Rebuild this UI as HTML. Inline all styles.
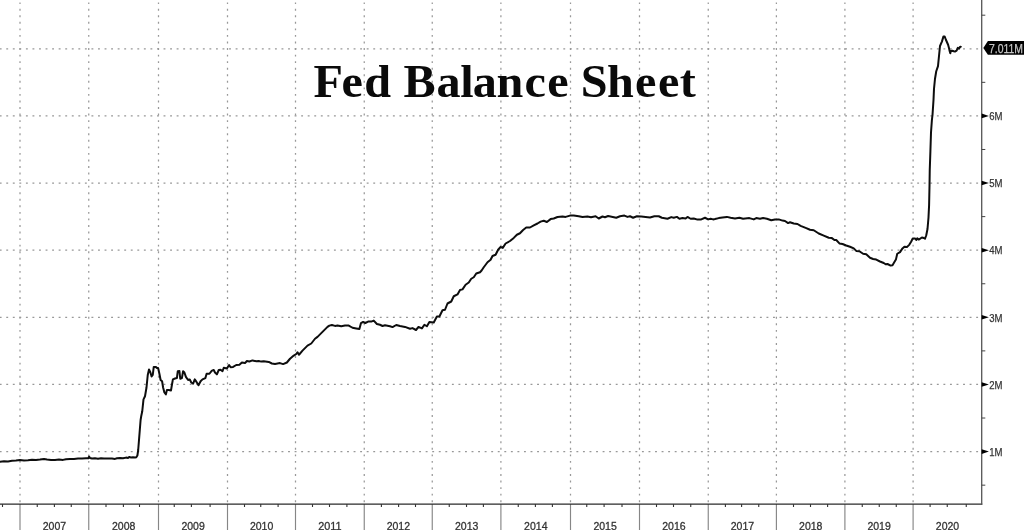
<!DOCTYPE html>
<html lang="en"><head><meta charset="utf-8"><title>Fed Balance Sheet</title>
<style>
html,body{margin:0;padding:0;background:#fff;}
body{width:1024px;height:530px;overflow:hidden;}
svg{display:block;}
.yr{font-family:"Liberation Sans",Arial,sans-serif;font-size:11.8px;fill:#333;stroke:#333;stroke-width:0.3px;}
.yl{font-family:"Liberation Sans",Arial,sans-serif;font-size:11.6px;fill:#333;stroke:#333;stroke-width:0.25px;}
.bd{font-family:"Liberation Sans",Arial,sans-serif;font-size:12.2px;fill:#c6c6c6;stroke:#c6c6c6;stroke-width:0.25px;}
.ttl{font-family:"Liberation Serif","Times New Roman",serif;font-weight:bold;font-size:47px;fill:#0a0a0a;}
</style></head><body>
<svg width="1024" height="530" viewBox="0 0 1024 530">
<rect x="0" y="0" width="1024" height="530" fill="#ffffff"/>
<g stroke="#989898" stroke-width="1.25" stroke-dasharray="1.9 4.6535" stroke-dashoffset="0.3" fill="none">
<line x1="20.00" y1="2.5" x2="20.00" y2="503.10"/>
<line x1="88.75" y1="2.5" x2="88.75" y2="503.10"/>
<line x1="158.50" y1="2.5" x2="158.50" y2="503.10"/>
<line x1="227.50" y1="2.5" x2="227.50" y2="503.10"/>
<line x1="295.50" y1="2.5" x2="295.50" y2="503.10"/>
<line x1="364.25" y1="2.5" x2="364.25" y2="503.10"/>
<line x1="432.25" y1="2.5" x2="432.25" y2="503.10"/>
<line x1="500.90" y1="2.5" x2="500.90" y2="503.10"/>
<line x1="570.50" y1="2.5" x2="570.50" y2="503.10"/>
<line x1="639.50" y1="2.5" x2="639.50" y2="503.10"/>
<line x1="708.25" y1="2.5" x2="708.25" y2="503.10"/>
<line x1="776.40" y1="2.5" x2="776.40" y2="503.10"/>
<line x1="844.90" y1="2.5" x2="844.90" y2="503.10"/>
<line x1="913.10" y1="2.5" x2="913.10" y2="503.10"/>
<line x1="0" y1="48.76" x2="980.70" y2="48.76"/>
<line x1="0" y1="115.90" x2="980.70" y2="115.90"/>
<line x1="0" y1="183.04" x2="980.70" y2="183.04"/>
<line x1="0" y1="250.18" x2="980.70" y2="250.18"/>
<line x1="0" y1="317.32" x2="980.70" y2="317.32"/>
<line x1="0" y1="384.46" x2="980.70" y2="384.46"/>
<line x1="0" y1="451.60" x2="980.70" y2="451.60"/>
</g>
<g stroke="#868686" stroke-width="1.15" fill="none">
<line x1="20.00" y1="504.10" x2="20.00" y2="530"/>
<line x1="88.75" y1="504.10" x2="88.75" y2="530"/>
<line x1="158.50" y1="504.10" x2="158.50" y2="530"/>
<line x1="227.50" y1="504.10" x2="227.50" y2="530"/>
<line x1="295.50" y1="504.10" x2="295.50" y2="530"/>
<line x1="364.25" y1="504.10" x2="364.25" y2="530"/>
<line x1="432.25" y1="504.10" x2="432.25" y2="530"/>
<line x1="500.90" y1="504.10" x2="500.90" y2="530"/>
<line x1="570.50" y1="504.10" x2="570.50" y2="530"/>
<line x1="639.50" y1="504.10" x2="639.50" y2="530"/>
<line x1="708.25" y1="504.10" x2="708.25" y2="530"/>
<line x1="776.40" y1="504.10" x2="776.40" y2="530"/>
<line x1="844.90" y1="504.10" x2="844.90" y2="530"/>
<line x1="913.10" y1="504.10" x2="913.10" y2="530"/>
</g>
<line x1="0" y1="504.10" x2="982.30" y2="504.10" stroke="#2a2a2a" stroke-width="1.3"/>
<line x1="981.70" y1="0" x2="981.70" y2="504.80" stroke="#555" stroke-width="1.3"/>
<g stroke="#333" stroke-width="1.1" fill="none">
<line x1="2.50" y1="504.10" x2="2.50" y2="507.00"/>
<line x1="37.25" y1="504.10" x2="37.25" y2="507.00"/>
<line x1="54.40" y1="504.10" x2="54.40" y2="507.00"/>
<line x1="71.25" y1="504.10" x2="71.25" y2="507.00"/>
<line x1="106.00" y1="504.10" x2="106.00" y2="507.00"/>
<line x1="123.40" y1="504.10" x2="123.40" y2="507.00"/>
<line x1="139.50" y1="504.10" x2="139.50" y2="507.00"/>
<line x1="174.25" y1="504.10" x2="174.25" y2="507.00"/>
<line x1="191.40" y1="504.10" x2="191.40" y2="507.00"/>
<line x1="210.10" y1="504.10" x2="210.10" y2="507.00"/>
<line x1="244.50" y1="504.10" x2="244.50" y2="507.00"/>
<line x1="260.75" y1="504.10" x2="260.75" y2="507.00"/>
<line x1="278.10" y1="504.10" x2="278.10" y2="507.00"/>
<line x1="312.50" y1="504.10" x2="312.50" y2="507.00"/>
<line x1="329.50" y1="504.10" x2="329.50" y2="507.00"/>
<line x1="346.90" y1="504.10" x2="346.90" y2="507.00"/>
<line x1="381.40" y1="504.10" x2="381.40" y2="507.00"/>
<line x1="398.60" y1="504.10" x2="398.60" y2="507.00"/>
<line x1="415.50" y1="504.10" x2="415.50" y2="507.00"/>
<line x1="449.25" y1="504.10" x2="449.25" y2="507.00"/>
<line x1="466.50" y1="504.10" x2="466.50" y2="507.00"/>
<line x1="483.40" y1="504.10" x2="483.40" y2="507.00"/>
<line x1="518.25" y1="504.10" x2="518.25" y2="507.00"/>
<line x1="535.40" y1="504.10" x2="535.40" y2="507.00"/>
<line x1="552.40" y1="504.10" x2="552.40" y2="507.00"/>
<line x1="586.75" y1="504.10" x2="586.75" y2="507.00"/>
<line x1="604.10" y1="504.10" x2="604.10" y2="507.00"/>
<line x1="622.00" y1="504.10" x2="622.00" y2="507.00"/>
<line x1="656.50" y1="504.10" x2="656.50" y2="507.00"/>
<line x1="673.50" y1="504.10" x2="673.50" y2="507.00"/>
<line x1="690.75" y1="504.10" x2="690.75" y2="507.00"/>
<line x1="725.40" y1="504.10" x2="725.40" y2="507.00"/>
<line x1="741.60" y1="504.10" x2="741.60" y2="507.00"/>
<line x1="758.75" y1="504.10" x2="758.75" y2="507.00"/>
<line x1="793.50" y1="504.10" x2="793.50" y2="507.00"/>
<line x1="810.50" y1="504.10" x2="810.50" y2="507.00"/>
<line x1="827.60" y1="504.10" x2="827.60" y2="507.00"/>
<line x1="862.25" y1="504.10" x2="862.25" y2="507.00"/>
<line x1="879.25" y1="504.10" x2="879.25" y2="507.00"/>
<line x1="896.25" y1="504.10" x2="896.25" y2="507.00"/>
<line x1="930.10" y1="504.10" x2="930.10" y2="507.00"/>
<line x1="947.25" y1="504.10" x2="947.25" y2="507.00"/>
<line x1="966.25" y1="504.10" x2="966.25" y2="507.00"/>
</g>
<g stroke="#444" stroke-width="1" fill="none">
<line x1="981.70" y1="15.19" x2="985.30" y2="15.19"/>
<line x1="981.70" y1="82.33" x2="985.30" y2="82.33"/>
<line x1="981.70" y1="149.47" x2="985.30" y2="149.47"/>
<line x1="981.70" y1="216.61" x2="985.30" y2="216.61"/>
<line x1="981.70" y1="283.75" x2="985.30" y2="283.75"/>
<line x1="981.70" y1="350.89" x2="985.30" y2="350.89"/>
<line x1="981.70" y1="418.03" x2="985.30" y2="418.03"/>
<line x1="981.70" y1="485.17" x2="985.30" y2="485.17"/>
</g>
<path d="M981.70,113.60 L988.90,115.90 L981.70,118.20 Z" fill="#000"/>
<text class="yl" x="989.3" y="120.20" textLength="13.3" lengthAdjust="spacingAndGlyphs">6M</text>
<path d="M981.70,180.74 L988.90,183.04 L981.70,185.34 Z" fill="#000"/>
<text class="yl" x="989.3" y="187.34" textLength="13.3" lengthAdjust="spacingAndGlyphs">5M</text>
<path d="M981.70,247.88 L988.90,250.18 L981.70,252.48 Z" fill="#000"/>
<text class="yl" x="989.3" y="254.48" textLength="13.3" lengthAdjust="spacingAndGlyphs">4M</text>
<path d="M981.70,315.02 L988.90,317.32 L981.70,319.62 Z" fill="#000"/>
<text class="yl" x="989.3" y="321.62" textLength="13.3" lengthAdjust="spacingAndGlyphs">3M</text>
<path d="M981.70,382.16 L988.90,384.46 L981.70,386.76 Z" fill="#000"/>
<text class="yl" x="989.3" y="388.76" textLength="13.3" lengthAdjust="spacingAndGlyphs">2M</text>
<path d="M981.70,449.30 L988.90,451.60 L981.70,453.90 Z" fill="#000"/>
<text class="yl" x="989.3" y="455.90" textLength="13.3" lengthAdjust="spacingAndGlyphs">1M</text>
<path d="M983.3,47.96 L987.9,41.1 L1024,41.1 L1024,54.8 L987.9,54.8 Z" fill="#000"/>
<text class="bd" x="989.0" y="52.8" textLength="34" lengthAdjust="spacingAndGlyphs">7.011M</text>
<text class="yr" x="42.78" y="529.8" textLength="23.4" lengthAdjust="spacingAndGlyphs">2007</text>
<text class="yr" x="112.02" y="529.8" textLength="23.4" lengthAdjust="spacingAndGlyphs">2008</text>
<text class="yr" x="181.40" y="529.8" textLength="23.4" lengthAdjust="spacingAndGlyphs">2009</text>
<text class="yr" x="249.90" y="529.8" textLength="23.4" lengthAdjust="spacingAndGlyphs">2010</text>
<text class="yr" x="318.28" y="529.8" textLength="23.4" lengthAdjust="spacingAndGlyphs">2011</text>
<text class="yr" x="386.65" y="529.8" textLength="23.4" lengthAdjust="spacingAndGlyphs">2012</text>
<text class="yr" x="454.98" y="529.8" textLength="23.4" lengthAdjust="spacingAndGlyphs">2013</text>
<text class="yr" x="524.10" y="529.8" textLength="23.4" lengthAdjust="spacingAndGlyphs">2014</text>
<text class="yr" x="593.40" y="529.8" textLength="23.4" lengthAdjust="spacingAndGlyphs">2015</text>
<text class="yr" x="662.27" y="529.8" textLength="23.4" lengthAdjust="spacingAndGlyphs">2016</text>
<text class="yr" x="730.73" y="529.8" textLength="23.4" lengthAdjust="spacingAndGlyphs">2017</text>
<text class="yr" x="799.05" y="529.8" textLength="23.4" lengthAdjust="spacingAndGlyphs">2018</text>
<text class="yr" x="867.40" y="529.8" textLength="23.4" lengthAdjust="spacingAndGlyphs">2019</text>
<text class="yr" x="935.80" y="529.8" textLength="23.4" lengthAdjust="spacingAndGlyphs">2020</text>
<text class="ttl" transform="translate(0,96.9) scale(1.025,1)" x="305.88 333.28 355.32 381.45 393.74 425.78 449.02 461.34 484.51 511.79 533.89 554.75 566.48 592.16 619.55 641.94 663.24" y="0">Fed Balance Sheet</text>
<path d="M0.00,461.70 L4.00,461.20 L8.00,461.40 L12.00,460.80 L16.00,460.60 L20.00,460.10 L24.00,460.50 L28.00,460.30 L32.00,459.80 L36.00,459.90 L40.00,459.50 L44.00,459.00 L47.00,459.60 L51.00,459.90 L55.00,460.00 L59.00,459.60 L63.00,459.90 L66.00,459.20 L70.00,458.90 L74.00,458.90 L78.00,458.60 L82.00,458.50 L86.00,458.30 L88.30,458.20 L89.10,456.60 L89.90,458.00 L92.00,458.50 L95.00,458.30 L98.00,458.70 L101.00,458.30 L104.00,458.60 L108.00,458.40 L112.00,458.60 L115.00,458.90 L117.00,458.20 L120.00,458.10 L123.00,458.30 L126.00,457.60 L128.00,457.90 L129.50,456.90 L131.00,457.60 L133.00,457.30 L135.00,457.60 L136.30,457.20 L137.40,455.50 L138.20,450.00 L139.00,440.00 L139.80,430.00 L140.60,420.00 L141.25,416.00 L142.25,411.25 L143.50,399.40 L145.00,396.25 L146.50,387.50 L147.75,375.00 L149.00,369.40 L150.40,372.50 L151.60,376.50 L152.75,375.00 L153.75,366.90 L155.60,366.90 L156.90,367.90 L158.10,367.90 L159.40,373.75 L160.60,380.00 L162.10,381.25 L163.10,387.50 L164.40,392.50 L165.90,394.40 L166.90,390.00 L168.75,390.00 L171.00,390.40 L171.90,385.00 L172.90,379.40 L175.00,378.50 L176.90,378.10 L177.75,371.25 L179.40,371.00 L180.25,378.75 L181.90,378.10 L183.10,371.25 L184.40,372.50 L185.90,376.90 L188.10,380.00 L189.75,379.40 L191.25,382.50 L193.10,383.75 L194.75,379.40 L196.50,381.90 L198.50,385.25 L200.60,381.25 L202.50,379.40 L205.40,378.10 L206.60,373.75 L209.40,373.75 L211.90,370.60 L213.75,370.00 L215.00,372.50 L216.90,374.40 L218.75,370.00 L220.60,369.75 L222.50,371.25 L223.75,367.75 L226.90,368.50 L229.10,365.00 L230.60,367.25 L233.10,366.90 L236.25,365.00 L239.40,364.75 L241.90,362.50 L245.00,363.10 L246.90,361.00 L249.40,361.50 L252.50,360.40 L256.25,361.25 L258.75,361.00 L261.25,361.60 L263.75,361.25 L268.75,361.90 L271.90,363.50 L275.00,364.00 L280.00,363.10 L283.10,364.10 L286.90,362.50 L290.00,358.75 L293.75,355.60 L296.25,354.00 L297.50,352.25 L299.00,354.75 L302.50,350.60 L307.50,345.60 L311.25,343.50 L315.00,338.75 L317.50,336.90 L322.50,331.90 L327.50,326.90 L329.40,325.60 L331.90,325.00 L335.00,325.90 L337.50,325.40 L341.25,326.25 L345.00,325.60 L348.75,325.60 L352.50,327.75 L356.25,328.50 L359.40,329.10 L361.00,323.10 L363.10,321.90 L365.30,323.00 L368.10,321.60 L371.25,321.60 L373.75,320.60 L376.90,324.00 L380.00,324.75 L382.50,326.00 L385.00,325.25 L390.00,326.25 L392.50,327.10 L396.25,325.00 L400.00,326.00 L405.00,326.90 L410.00,328.75 L412.50,328.10 L416.00,330.00 L418.50,326.90 L421.90,328.40 L424.40,324.75 L426.90,326.25 L429.40,321.90 L433.75,322.50 L436.90,316.50 L439.40,316.50 L442.50,310.25 L445.00,309.75 L447.50,303.50 L451.25,301.50 L453.75,296.25 L457.50,294.40 L460.00,290.00 L462.50,289.40 L465.60,284.75 L468.75,282.50 L471.25,278.75 L473.75,277.25 L476.25,273.50 L480.00,272.25 L481.60,270.50 L483.75,267.25 L487.50,262.25 L490.60,259.75 L492.50,256.00 L495.60,254.75 L498.10,249.75 L500.60,247.00 L502.75,247.90 L505.60,243.50 L510.00,241.00 L513.75,237.90 L516.90,234.75 L520.00,233.25 L523.10,230.00 L526.25,227.50 L530.00,227.50 L533.75,225.40 L537.50,223.50 L540.60,221.60 L543.75,220.75 L546.90,222.00 L550.60,219.10 L553.75,218.50 L557.50,217.00 L562.50,216.40 L565.60,216.90 L570.00,215.60 L573.75,215.40 L578.75,216.25 L582.50,217.00 L587.50,216.60 L591.00,217.20 L595.60,216.25 L598.75,218.50 L602.50,216.50 L605.00,217.25 L608.10,216.00 L616.25,217.75 L620.00,216.25 L624.40,215.60 L627.50,216.90 L630.00,216.25 L633.10,217.75 L636.90,216.25 L641.25,216.50 L650.00,217.50 L654.40,216.25 L658.75,216.25 L661.90,217.75 L667.50,218.75 L671.25,217.10 L673.75,217.75 L676.90,216.90 L679.40,218.75 L682.50,218.10 L685.60,218.50 L687.50,216.90 L690.60,218.75 L693.75,218.50 L697.50,219.60 L701.25,219.40 L705.00,217.75 L708.10,219.40 L710.60,218.75 L713.10,219.40 L715.00,219.00 L718.75,218.10 L722.50,217.50 L726.90,216.90 L730.60,217.75 L735.00,218.50 L739.40,217.75 L743.10,218.75 L749.40,218.10 L753.75,219.40 L756.25,218.10 L760.00,218.75 L763.10,218.10 L766.90,218.75 L771.25,220.25 L775.00,219.40 L778.75,219.40 L782.50,220.60 L785.00,221.00 L788.10,223.10 L790.00,222.25 L793.75,223.50 L797.50,224.00 L800.60,225.90 L806.25,228.10 L810.00,229.75 L813.75,230.25 L818.75,233.50 L823.75,235.60 L828.75,237.75 L831.90,238.10 L834.40,240.00 L836.25,240.00 L839.40,243.40 L842.50,244.00 L846.25,245.50 L850.00,246.75 L853.75,248.40 L856.25,250.90 L859.40,251.25 L863.10,253.75 L866.25,254.25 L870.00,257.75 L873.10,259.00 L876.25,259.60 L880.00,261.50 L883.75,263.00 L885.60,264.25 L887.50,264.00 L890.60,265.60 L892.50,265.25 L894.40,262.10 L895.90,259.60 L897.25,253.75 L900.00,252.10 L902.50,248.40 L904.40,246.75 L906.90,247.10 L909.40,244.60 L911.25,241.50 L912.75,238.40 L915.00,238.40 L916.25,240.00 L917.25,238.40 L918.75,239.60 L921.90,237.50 L923.75,238.00 L925.00,238.75 L926.25,235.25 L927.50,229.00 L928.50,217.50 L929.10,205.00 L929.50,186.00 L929.75,170.00 L930.40,151.25 L931.00,132.50 L931.90,120.00 L932.50,115.00 L933.50,100.00 L934.00,88.75 L935.00,78.75 L936.25,71.25 L938.00,66.20 L938.80,58.00 L940.00,46.00 L941.90,41.60 L943.40,36.60 L944.70,36.60 L945.90,39.75 L948.10,44.75 L949.10,48.50 L949.70,51.30 L950.30,53.20 L950.75,51.00 L952.20,50.70 L953.75,51.30 L955.00,51.50 L956.60,50.70 L957.80,47.90 L959.10,48.80 L959.70,47.25 L960.80,46.70" fill="none" stroke="#0d0d0d" stroke-width="2" stroke-linejoin="round" stroke-linecap="round"/>
</svg>
</body></html>
